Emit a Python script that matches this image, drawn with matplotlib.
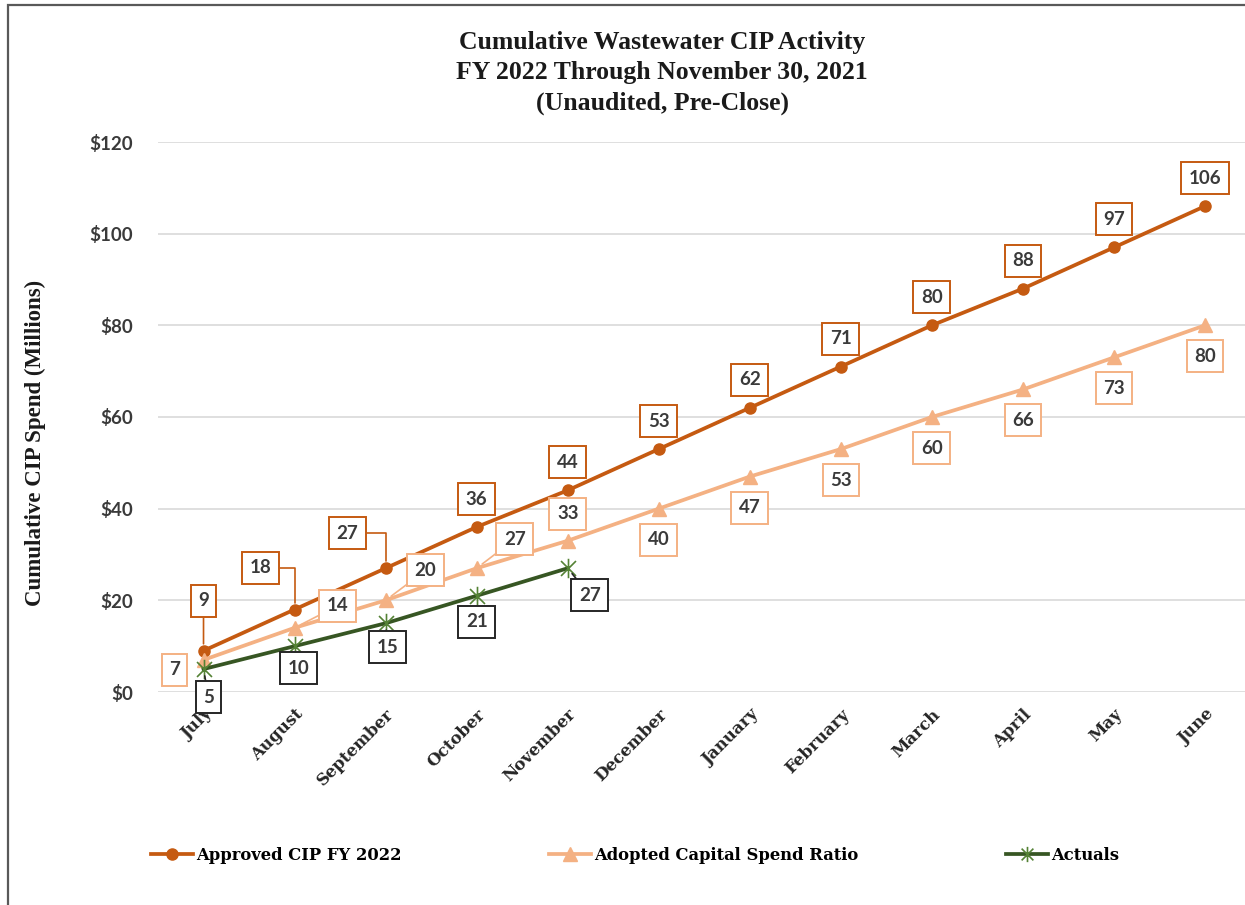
"""Cumulative Wastewater CIP Activity line chart."""

import matplotlib
matplotlib.use("Agg")
import matplotlib.pyplot as plt
from matplotlib.lines import Line2D
from matplotlib.patches import Rectangle
from matplotlib.path import Path

months = ["July", "August", "September", "October", "November", "December",
          "January", "February", "March", "April", "May", "June"]
approved = [9, 18, 27, 36, 44, 53, 62, 71, 80, 88, 97, 106]
adopted = [7, 14, 20, 27, 33, 40, 47, 53, 60, 66, 73, 80]
actuals = [5, 10, 15, 21, 27]

# label offsets in pixels (dx, dy), dy upward; leader style (None = no line)
ELBOW = "angle,angleA=0,angleB=90,rad=0"
STRAIGHT = "arc3"
approved_offsets = [(0, 50, STRAIGHT), (-34, 42, ELBOW), (-38, 35, ELBOW)] + [(0, 28, None)] * 9
adopted_offsets = [(-29, -10, None), (43, 22, STRAIGHT), (40, 30, STRAIGHT), (38, 29, STRAIGHT),
                   (0, 27, None)] + [(0, -31, None)] * 7
actual_offsets = [(5, -28, STRAIGHT), (4, -22, None), (2, -24, STRAIGHT), (0, -26, None),
                  (22, -27, STRAIGHT)]

C_APPROVED = "#C55A11"
C_ADOPTED = "#F4B183"
C_ACTUAL = "#375623"
C_ACTUAL_MK = "#548235"
TXT = "#3a3a3a"

SERIF = "DejaVu Serif"
TITLE_FONT = "Liberation Serif"
NUM_FONT = "Lato"

star = Path([(-1, -1), (1, 1), (-1, 1), (1, -1), (0, -1.3), (0, 1.3)],
            [Path.MOVETO, Path.LINETO, Path.MOVETO, Path.LINETO, Path.MOVETO, Path.LINETO])

fig = plt.figure(figsize=(12.45, 9.05), dpi=100)
W, H = 1245, 905
ax = fig.add_axes([158 / W, (H - 692) / H, 1092.5 / W, 550 / H])

x_all = list(range(len(months)))
ax.plot(x_all, approved, color=C_APPROVED, lw=2.7, marker="o", ms=8, zorder=3)
ax.plot(x_all, adopted, color=C_ADOPTED, lw=2.7, marker="^", ms=9.5, zorder=3)
ax.plot(x_all[:len(actuals)], actuals, color=C_ACTUAL, lw=2.7, marker=star, ms=14,
        markeredgecolor=C_ACTUAL_MK, markeredgewidth=1.2, zorder=4)

ax.set_xlim(-0.5, len(months) - 0.5)
ax.set_ylim(0, 120)
ax.set_yticks(range(0, 121, 20))
ax.set_yticklabels([f"${v}" for v in range(0, 121, 20)], fontfamily=NUM_FONT,
                   fontweight="bold", fontsize=13.5, color=TXT)
ax.set_xticks(x_all)
ax.set_xticklabels(months, rotation=45, ha="right", rotation_mode="anchor",
                   fontfamily=SERIF, fontweight="bold", fontsize=12, color="#262626")
ax.tick_params(axis="both", length=0)
ax.tick_params(axis="y", pad=18)
ax.tick_params(axis="x", pad=10)
ax.grid(axis="y", color="#D9D9D9", lw=1.2)
ax.set_axisbelow(True)
for s in ax.spines.values():
    s.set_visible(False)


def label_series(xs, ys, offsets, color):
    for xi, yi, (dx, dy, lead) in zip(xs, ys, offsets):
        arrow = None
        if lead:
            arrow = dict(arrowstyle="-", color=color, lw=1.2, shrinkA=0, shrinkB=5,
                         connectionstyle=lead)
        ax.annotate(str(yi), (xi, yi), xytext=(dx, dy), textcoords="offset pixels",
                    ha="center", va="center", fontsize=13.5, fontfamily=NUM_FONT,
                    fontweight="bold", color=TXT, zorder=6, arrowprops=arrow,
                    bbox=dict(boxstyle="square,pad=0.4", fc="white", ec=color, lw=1.4))


label_series(x_all, approved, approved_offsets, C_APPROVED)
label_series(x_all, adopted, adopted_offsets, C_ADOPTED)
label_series(x_all[:len(actuals)], actuals, actual_offsets, "#262626")

fig.text(662 / W, 1 - 73 / H,
         "Cumulative Wastewater CIP Activity\nFY 2022 Through November 30, 2021\n(Unaudited, Pre-Close)",
         ha="center", va="center", fontfamily=TITLE_FONT, fontweight="bold",
         fontsize=18.5, linespacing=1.38, color="#1a1a1a")
fig.text(35 / W, 1 - 443 / H, "Cumulative CIP Spend (Millions)", rotation=90,
         ha="center", va="center", fontfamily=TITLE_FONT, fontweight="bold",
         fontsize=16.5, color="#1a1a1a")

handles = [
    Line2D([], [], color=C_APPROVED, lw=2.7, marker="o", ms=8),
    Line2D([], [], color=C_ADOPTED, lw=2.7, marker="^", ms=9.5),
    Line2D([], [], color=C_ACTUAL, lw=2.7, marker=star, ms=11,
           markeredgecolor=C_ACTUAL_MK, markeredgewidth=1.2),
]
fig.legend(handles, ["Approved CIP FY 2022", "Adopted Capital Spend Ratio", "Actuals"],
           loc="center left", bbox_to_anchor=(136 / W, 1 - 855 / H), ncol=3,
           frameon=False, handlelength=2.6, handletextpad=0.15, columnspacing=9.0,
           prop=dict(family=SERIF, weight="bold", size=11.8))

fig.patches.append(Rectangle((8 / W, -0.05), 1.2, 1 - 5 / H + 0.05, transform=fig.transFigure,
                             fill=False, ec="#595959", lw=1.6))

fig.savefig("out.png", dpi=100)
